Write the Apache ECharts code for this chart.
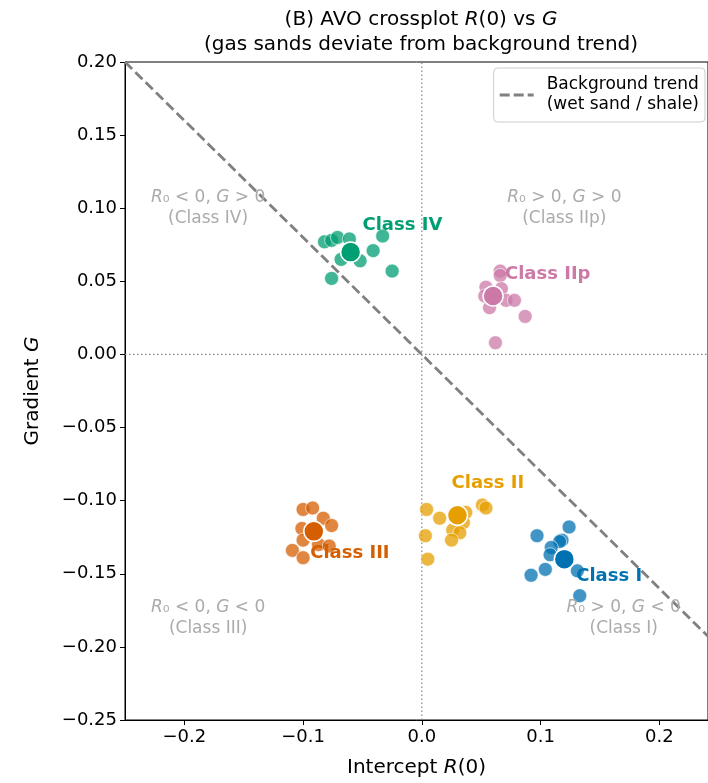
<!DOCTYPE html>
<html>
<head>
<meta charset="utf-8">
<script src="https://cdn.jsdelivr.net/npm/echarts@6/dist/echarts.min.js"></script>
<style>html,body{margin:0;padding:0;background:#fff}#c{width:708px;height:783px}</style>
</head>
<body>
<div id="c"></div>
<script>
// ---- data ----
const classNames = ['Class I', 'Class II', 'Class III', 'Class IV', 'Class IIp'];
const classColors = ['#0072B2', '#E69F00', '#D55E00', '#009E73', '#CC79A7'];

const classI_R = [0.124, 0.097, 0.118, 0.116, 0.109, 0.108, 0.104, 0.131, 0.092, 0.133];
const classI_G = [-0.118, -0.124, -0.127, -0.128, -0.132, -0.137, -0.147, -0.148, -0.151, -0.165];
const classII_R = [0.004, 0.015, 0.037, 0.051, 0.054, 0.035, 0.026, 0.032, 0.025, 0.003, 0.005];
const classII_G = [-0.106, -0.112, -0.108, -0.103, -0.105, -0.115, -0.120, -0.122, -0.127, -0.124, -0.140];
const classIII_R = [-0.100, -0.092, -0.083, -0.076, -0.101, -0.100, -0.087, -0.078, -0.109, -0.100];
const classIII_G = [-0.106, -0.105, -0.112, -0.117, -0.119, -0.127, -0.130, -0.131, -0.134, -0.139];
const classIV_R = [-0.082, -0.076, -0.071, -0.061, -0.068, -0.052, -0.041, -0.033, -0.025, -0.076];
const classIV_G = [0.077, 0.078, 0.080, 0.079, 0.065, 0.064, 0.071, 0.081, 0.057, 0.052];
const classIIp_R = [0.066, 0.066, 0.054, 0.067, 0.053, 0.071, 0.078, 0.057, 0.087, 0.062];
const classIIp_G = [0.057, 0.054, 0.046, 0.045, 0.040, 0.037, 0.037, 0.032, 0.026, 0.008];

const centroid_R = [0.120, 0.030, -0.091, -0.060, 0.060];
const centroid_G = [-0.140, -0.110, -0.121, 0.070, 0.040];

const classLabel_R = [0.130, 0.025, -0.094, -0.050, 0.070];
const classLabel_G = [-0.152, -0.088, -0.136, 0.088, 0.055];

const trend_R = [-0.25, 0.25];
const trend_G = [0.20, -0.20];

const quadLabels = ['{i|R}₀ < 0, {i|G} > 0\n(Class IV)', '{i|R}₀ > 0, {i|G} > 0\n(Class IIp)',
                    '{i|R}₀ < 0, {i|G} < 0\n(Class III)', '{i|R}₀ > 0, {i|G} < 0\n(Class I)'];
const quad_R = [-0.18, 0.12, -0.18, 0.17];
const quad_G = [0.10, 0.10, -0.18, -0.18];

const xTicks = [-0.2, -0.1, 0.0, 0.1, 0.2];
const xMin = -0.25, xMax = 0.241;
const yMin = -0.25, yMax = 0.20, yStep = 0.05;

// ---- build ----
const FONT = 'DejaVu Sans';
const pairs = (xs, ys) => xs.map((x, i) => [x, ys[i]]);
const classR = [classI_R, classII_R, classIII_R, classIV_R, classIIp_R];
const classG = [classI_G, classII_G, classIII_G, classIV_G, classIIp_G];
const fmt = (v, d) => (v < -1e-9 ? '\u2212' : '') + Math.abs(v).toFixed(d);
const QUADC = '#ababab';

const series = [];
classNames.forEach((name, k) => {
  series.push({
    type: 'scatter', name: name, data: pairs(classR[k], classG[k]),
    symbolSize: 14, z: 2,
    itemStyle: { color: classColors[k], opacity: 0.75, borderColor: '#fff', borderWidth: 0.8 },
    emphasis: { disabled: true }, silent: true
  });
});
classNames.forEach((name, k) => {
  series.push({
    type: 'scatter', name: name + ' mean', data: [[centroid_R[k], centroid_G[k]]],
    symbolSize: 20, z: 4,
    itemStyle: { color: classColors[k], opacity: 1, borderColor: '#fff', borderWidth: 1.5 },
    silent: true
  });
  series.push({
    type: 'scatter', name: name + ' label', data: [[classLabel_R[k], classLabel_G[k]]],
    symbolSize: 0, z: 5, silent: true, itemStyle: { opacity: 1 },
    label: { show: true, position: [0, 0], align: 'left', verticalAlign: 'middle', opacity: 1,
      textBorderWidth: 0,
      formatter: name, color: classColors[k], fontFamily: FONT, fontWeight: 'bold', fontSize: 18 }
  });
});
quadLabels.forEach((t, k) => {
  series.push({
    type: 'scatter', name: 'quad' + k, data: [[quad_R[k], quad_G[k]]],
    symbolSize: 0, z: 5, silent: true, itemStyle: { opacity: 1 },
    label: { show: true, position: [0, 0], align: 'center', verticalAlign: 'middle', opacity: 1,
      textBorderWidth: 0,
      formatter: t, color: QUADC, fontFamily: FONT, fontSize: 17, lineHeight: 21,
      rich: { i: { fontStyle: 'italic', color: QUADC, fontFamily: FONT, fontSize: 17, lineHeight: 21 } } }
  });
});
// zero reference lines
series.push({ type: 'line', name: 'zx', data: [[0, yMin], [0, yMax]], symbol: 'none', z: 1, silent: true,
  lineStyle: { color: '#888', width: 1.2, type: [1.5, 2.5] } });
series.push({ type: 'line', name: 'zy', data: [[xMin, 0], [xMax, 0]], symbol: 'none', z: 1, silent: true,
  lineStyle: { color: '#888', width: 1.2, type: [1.5, 2.5] } });
// background trend
series.push({ type: 'line', name: 'Background trend\n(wet sand / shale)', data: pairs(trend_R, trend_G),
  symbol: 'none', z: 3, silent: true, clip: true,
  itemStyle: { color: '#808080' },
  lineStyle: { color: '#808080', width: 2.8, type: [10, 4.5] } });

const chart = echarts.init(document.getElementById('c'), null, { renderer: 'canvas' });
chart.setOption({
  animation: false,
  backgroundColor: '#fff',
  title: {
    text: '(B) AVO crossplot {i|R}(0) vs {i|G}\n(gas sands deviate from background trend)',
    left: 416, top: 2, textAlign: 'center',
    textStyle: { fontFamily: FONT, fontSize: 20, fontWeight: 'normal', color: '#000', lineHeight: 25,
      rich: { i: { fontStyle: 'italic', fontFamily: FONT, fontSize: 20, color: '#000', lineHeight: 25 } } }
  },
  legend: {
    data: [{ name: 'Background trend\n(wet sand / shale)',
      icon: 'path://M0,0h10v2.8h-10z M14,0h10v2.8h-10z M28,0h6v2.8h-6z',
      itemStyle: { color: '#808080', borderWidth: 0 } }],
    right: 3, top: 68, orient: 'vertical',
    backgroundColor: '#fff', borderColor: '#cccccc', borderWidth: 1, borderRadius: 4,
    padding: [7, 6, 7, 6], itemWidth: 34, itemHeight: 14, symbolKeepAspect: true,
    textStyle: { fontFamily: FONT, fontSize: 17, color: '#000', lineHeight: 20, padding: [0, 0, 0, 8] }
  },
  grid: { left: 125, top: 62, right: 0, bottom: 63, show: true, borderColor: '#000', borderWidth: 1, containLabel: false },
  xAxis: {
    type: 'value', min: xMin, max: xMax,
    name: 'Intercept {i|R}(0)', nameLocation: 'middle', nameGap: 38,
    nameTextStyle: { fontFamily: FONT, fontSize: 20, color: '#000',
      rich: { i: { fontStyle: 'italic', fontFamily: FONT, fontSize: 20, color: '#000' } } },
    axisLine: { show: true, onZero: false, lineStyle: { color: '#000', width: 1 } },
    axisTick: { show: true, length: 5, lineStyle: { color: '#000' }, customValues: xTicks },
    axisLabel: { customValues: xTicks, fontFamily: FONT, fontSize: 18, color: '#000', margin: 8,
      formatter: v => fmt(v, 1) },
    splitLine: { show: false }
  },
  yAxis: {
    type: 'value', min: yMin, max: yMax, interval: yStep,
    name: 'Gradient {i|G}', nameLocation: 'middle', nameGap: 82, nameRotate: 90,
    nameTextStyle: { fontFamily: FONT, fontSize: 20, color: '#000',
      rich: { i: { fontStyle: 'italic', fontFamily: FONT, fontSize: 20, color: '#000' } } },
    axisLine: { show: true, onZero: false, lineStyle: { color: '#000', width: 1 } },
    axisTick: { show: true, length: 5, lineStyle: { color: '#000' } },
    axisLabel: { fontFamily: FONT, fontSize: 18, color: '#000', margin: 8, formatter: v => fmt(v, 2) },
    splitLine: { show: false }
  },
  series: series
});
</script>
</body>
</html>
